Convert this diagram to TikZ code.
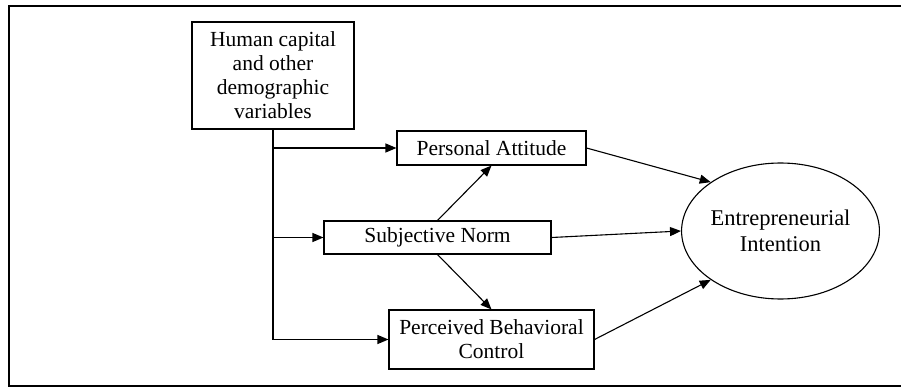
\documentclass[tikz,border=0pt]{standalone}
\usepackage{fontspec}
\setmainfont{Liberation Serif}
\usetikzlibrary{arrows.meta,shapes.geometric}
\begin{document}
\begin{tikzpicture}[x=1pt,y=-1pt,
  every node/.style={font=\fontsize{21.5}{24}\selectfont, inner sep=0pt, align=center},
  box/.style={draw, line width=1.1pt, fill=white},
  arr/.style={line width=1.1pt, -{Triangle[length=11pt,width=9pt]}}]
\useasboundingbox (0,0) rectangle (901,387);
\draw[line width=2pt] (901,6) -- (9,6) -- (9,386) -- (901,386);
\node[box, minimum width=162pt, minimum height=107pt] (H) at (273,75.5) {Human capital\\and other\\demographic\\variables};
\node[box, minimum width=189pt, minimum height=34pt] (PA) at (491.5,148) {Personal Attitude};
\node[box, minimum width=227pt, minimum height=33pt] (SN) at (437.5,237.5) {Subjective Norm};
\node[box, minimum width=205pt, minimum height=59pt] (PBC) at (491.5,339.5) {Perceived Behavioral\\Control};
\node[draw, ellipse, line width=1.1pt, minimum width=189pt, minimum height=136pt, font=\fontsize{22.5}{26}\selectfont] (EI) at (780.5,231) {Entrepreneurial\\Intention};
\draw[arr] (H.south) |- (PBC.west);
\draw[arr] (H.south |- PA.west) -- (PA.west);
\draw[arr] (H.south |- SN.west) -- (SN.west);
\draw[arr] (SN.north) -- (PA.south);
\draw[arr] (SN.south) -- (PBC.north);
\draw[arr] (PA.east) -- (EI.145);
\draw[arr] (SN.east) -- (EI.west);
\draw[arr] (PBC.east) -- (EI.215);
\end{tikzpicture}
\end{document}
